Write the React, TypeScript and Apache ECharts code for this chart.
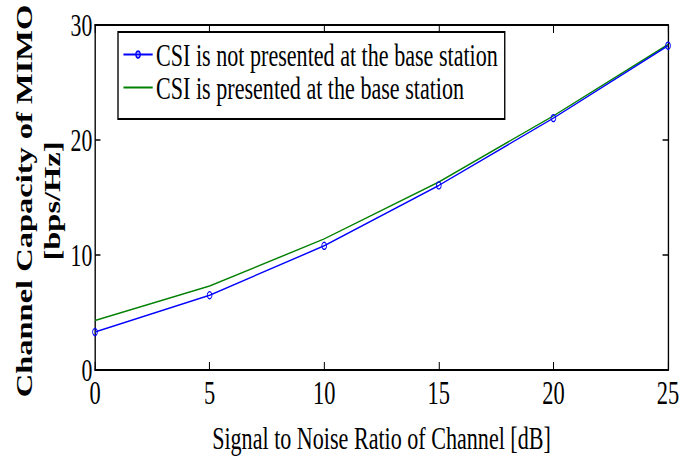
import React, { useEffect, useRef } from "react";
import * as echarts from "echarts";

const snr = [0, 5, 10, 15, 20, 25];
const csiNotPresented = [3.3, 6.5, 10.8, 16.05, 21.9, 28.2];
const csiPresented = [4.3, 7.3, 11.4, 16.35, 22.1, 28.3];
const xTicks = [0, 5, 10, 15, 20, 25];
const yTicks = [0, 10, 20, 30];

const seriesNames = [
  "CSI is not presented at the base station",
  "CSI is presented at the base station",
];

const S = 0.68; // horizontal squeeze of the original figure
const W = 694;
const H = 459;
const UW = Math.round(W / S);
const FONT = "Liberation Serif";

export default function App() {
  const ref = useRef<HTMLDivElement>(null);

  useEffect(() => {
    if (!ref.current) return;
    const chart = echarts.init(ref.current, undefined, { renderer: "svg" });
    const gridLeft = 95 / S;
    const gridRight = UW - 668 / S;
    const gridTop = 25;
    const gridBottom = H - 371.5;

    const axisCommon = {
      type: "value" as const,
      splitLine: { show: false },
      axisLine: { show: true, onZero: false, lineStyle: { color: "#000", width: 2 } },
      axisTick: { show: true, inside: true, length: 8, lineStyle: { color: "#000", width: 1.5 } },
    };

    chart.setOption({
      animation: false,
      backgroundColor: "#fff",
      grid: { left: gridLeft, right: gridRight, top: gridTop, bottom: gridBottom, containLabel: false },
      xAxis: [
        {
          ...axisCommon,
          position: "bottom",
          min: xTicks[0],
          max: xTicks[xTicks.length - 1],
          interval: xTicks[1] - xTicks[0],
          axisLabel: { show: true, color: "#000", fontFamily: FONT, fontSize: 33, margin: 6 },
          name: "Signal to Noise Ratio of Channel [dB]",
          nameLocation: "middle",
          nameGap: 51,
          nameMoveOverlap: false,
          nameTextStyle: { color: "#000", fontFamily: FONT, fontSize: 32.5, verticalAlign: "top" },
        },
        {
          ...axisCommon,
          position: "top",
          min: xTicks[0],
          max: xTicks[xTicks.length - 1],
          interval: xTicks[1] - xTicks[0],
          axisLabel: { show: false },
        },
      ],
      yAxis: [
        {
          ...axisCommon,
          position: "left",
          min: yTicks[0],
          max: yTicks[yTicks.length - 1],
          interval: yTicks[1] - yTicks[0],
          axisLabel: { show: true, color: "#000", fontFamily: FONT, fontSize: 32, margin: 4 },
        },
        {
          ...axisCommon,
          position: "right",
          min: yTicks[0],
          max: yTicks[yTicks.length - 1],
          interval: yTicks[1] - yTicks[0],
          axisLabel: { show: false },
        },
      ],
      legend: {
        orient: "vertical",
        left: 118 / S,
        top: 32,
        borderColor: "#000",
        borderWidth: 2,
        backgroundColor: "#fff",
        padding: [6, 10, 15, 7],
        itemWidth: 43,
        itemHeight: 8,
        itemGap: 0,
        textStyle: { color: "#000", fontFamily: FONT, fontSize: 32.5, lineHeight: 33 },
        data: [
          { name: seriesNames[0] },
          { name: seriesNames[1], itemStyle: { color: "rgba(0,0,0,0)", borderWidth: 0, opacity: 0 } },
        ],
      },
      graphic: [
        {
          type: "text",
          x: 38.5 / S,
          y: 201,
          rotation: Math.PI / 2,
          style: {
            text: "Channel Capacity of MIMO\n[bps/Hz]",
            fontFamily: FONT,
            fontWeight: "bold",
            fontSize: 32.5,
            lineHeight: 40,
            fill: "#000",
            align: "center",
            verticalAlign: "middle",
          },
        },
      ],
      series: [
        {
          name: seriesNames[0],
          type: "line",
          data: snr.map((x, i) => [x, csiNotPresented[i]]),
          symbol: "circle",
          symbolSize: 7,
          showSymbol: true,
          lineStyle: { color: "#0000ff", width: 1.5 },
          itemStyle: { color: "rgba(255,255,255,0)", borderColor: "#0000ff", borderWidth: 1.3 },
          z: 3,
        },
        {
          name: seriesNames[1],
          type: "line",
          data: snr.map((x, i) => [x, csiPresented[i]]),
          symbol: "none",
          lineStyle: { color: "#008000", width: 1.5 },
          itemStyle: { color: "#008000" },
          z: 2,
        },
      ],
    });
    return () => chart.dispose();
  }, []);

  return (
    <div
      style={{
        position: "fixed",
        left: 0,
        top: 0,
        width: W,
        height: H,
        overflow: "hidden",
        background: "#fff",
      }}
    >
      <div
        ref={ref}
        style={{
          width: UW,
          height: H,
          transform: `scaleX(${S})`,
          transformOrigin: "0 0",
        }}
      />
    </div>
  );
}
